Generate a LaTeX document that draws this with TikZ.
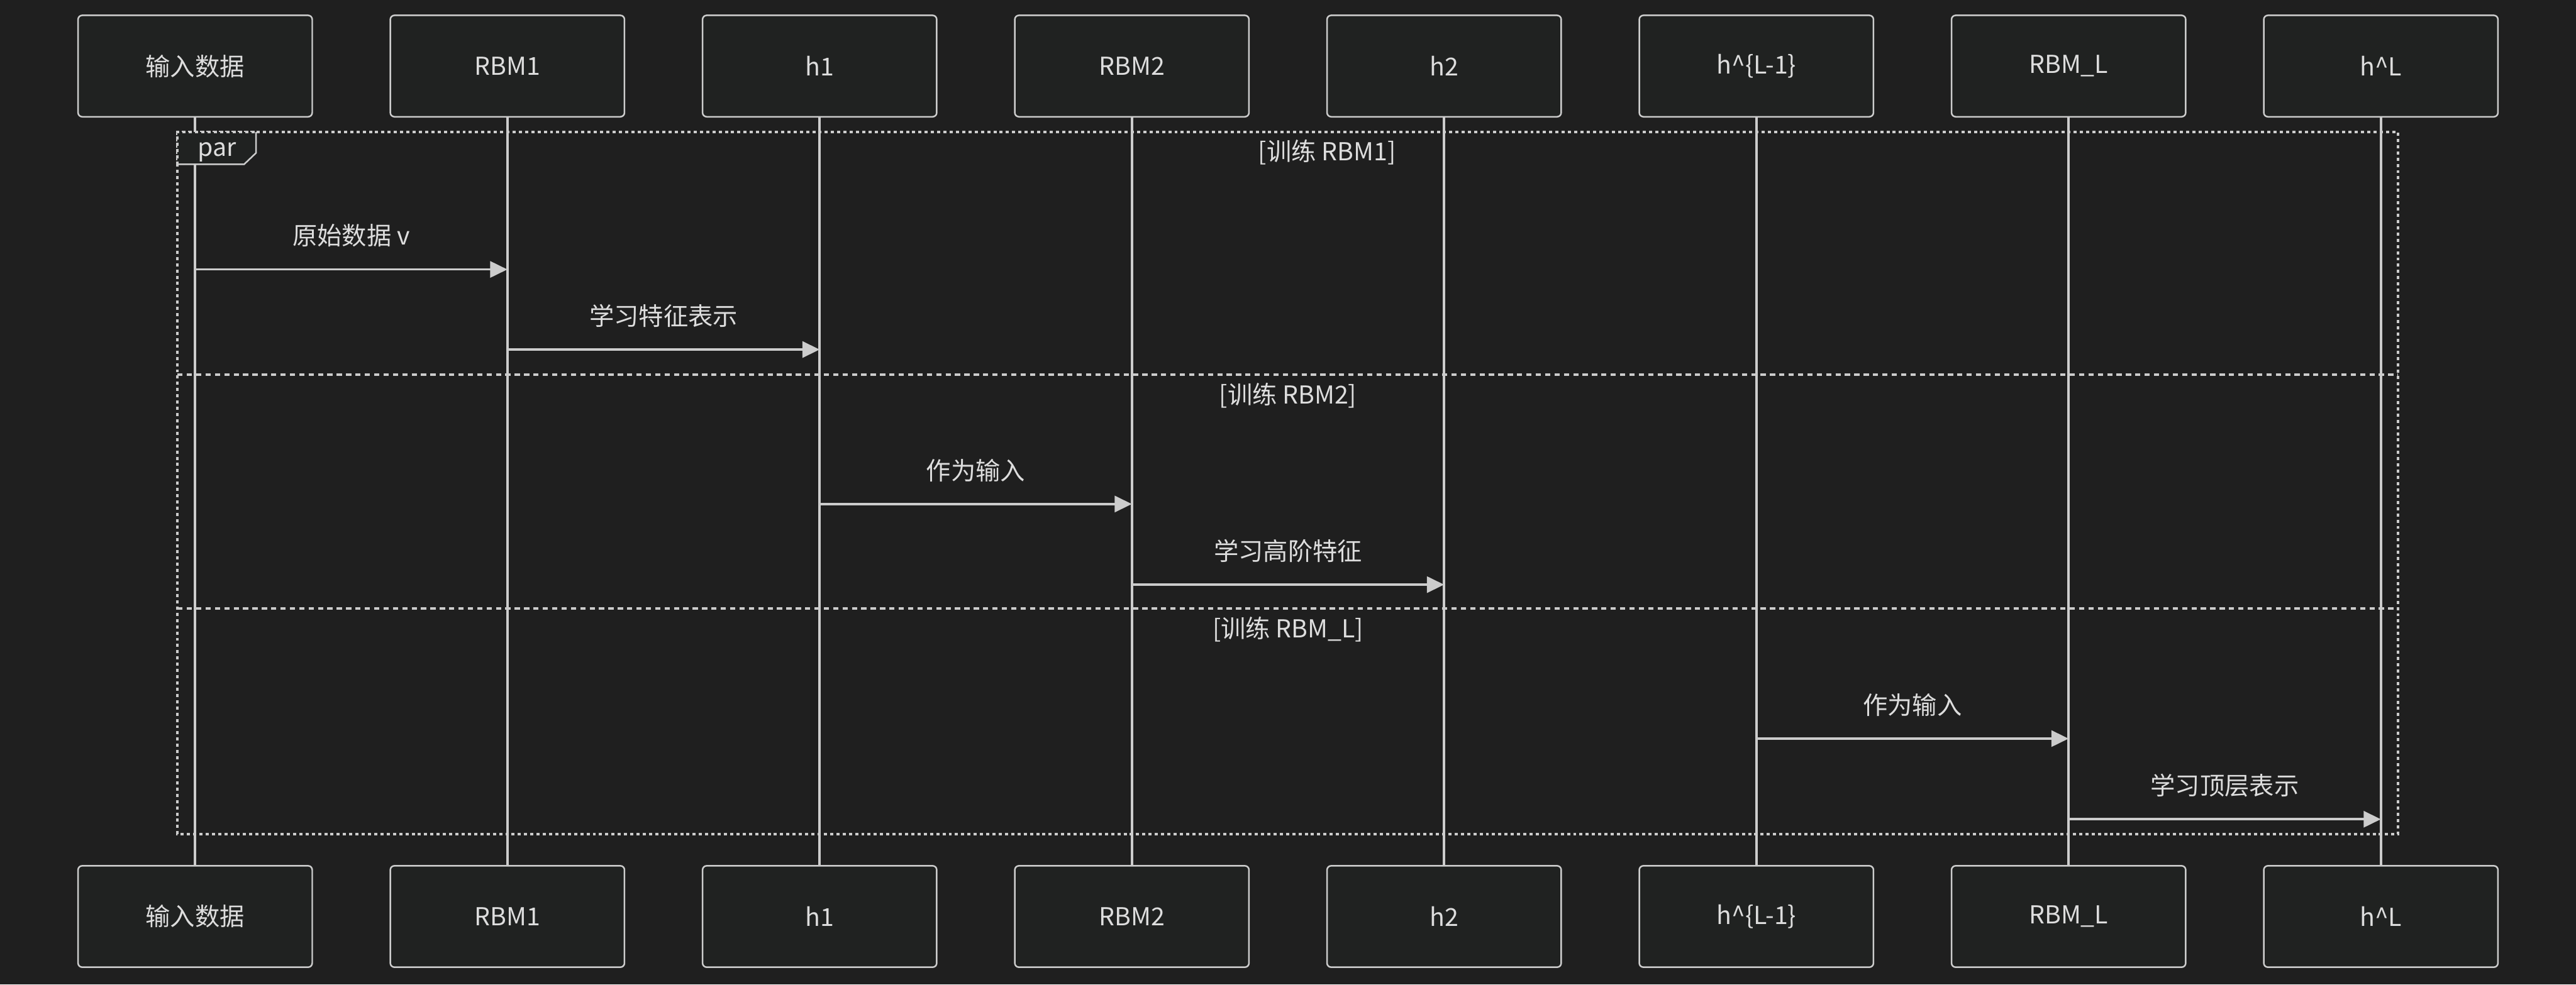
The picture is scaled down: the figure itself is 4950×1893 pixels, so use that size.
\documentclass[tikz,border=0pt]{standalone}
\usepackage{fontspec}
\setmainfont{Noto Sans CJK SC}
\usetikzlibrary{arrows.meta}
\definecolor{bg}{HTML}{1F1F1F}
\definecolor{boxfill}{HTML}{202221}
\definecolor{ln}{HTML}{CCCCCC}
\definecolor{txt}{HTML}{DDDDDD}
\begin{document}
\begin{tikzpicture}[x=0.2pt,y=-0.2pt,
  lbl/.style={text=txt,font=\fontsize{9.5}{11}\selectfont,inner sep=0pt},
  actor/.style={lbl,draw=ln,line width=0.6pt,fill=boxfill,rounded corners=1.6pt,
    minimum width=90pt,minimum height=39pt},
  lifeline/.style={draw=ln,line width=1pt},
  msg/.style={draw=ln,line width=0.9pt,-{Triangle[length=6.6pt,width=6.2pt]}},
  frameline/.style={draw=ln,line width=1pt,dash pattern=on 1.2pt off 1.2pt},
  sepline/.style={draw=ln,line width=1pt,dash pattern=on 2pt off 1.6pt}]
\fill[bg] (0,0) rectangle (4950,1893);
\useasboundingbox (0,0) rectangle (4950,1893);
% actors
\foreach \i/\t in {1/输入数据,2/RBM1,3/h1,4/RBM2,5/h2,6/h\textasciicircum\{L-1\},7/RBM\_L,8/h\textasciicircum L}{
  \node[actor] (top\i) at ({375+600*(\i-1)},127) {\t};
  \node[actor] (bot\i) at ({375+600*(\i-1)},1762) {\t};
}
% lifelines
\foreach \i in {1,...,8}{
  \draw[lifeline] (top\i.south) -- (bot\i.north);
}
% par frame
\draw[frameline] (341,254) rectangle (4608,1604);
\draw[sepline] (341,720) -- (4608,720);
\draw[sepline] (341,1170) -- (4608,1170);
\fill[boxfill] (341,254) -- (492,254) -- (492,294) -- (469,316) -- (341,316) -- cycle;
\draw[ln,line width=0.6pt] (492,254) -- (492,294) -- (469,316) -- (341,316);
\draw[frameline] (341,316) -- (341,254) -- (492,254);
\node[lbl] (parlbl) at (417,293) {par};
% section labels
\node[lbl] (sec1) at (2550,293) {[训练 RBM1]};
\node[lbl] (sec2) at (2475,760) {[训练 RBM2]};
\node[lbl] (sec3) at (2475,1210) {[训练 RBM\_L]};
% message end points
\coordinate (m1a) at (375,518);  \coordinate (m1b) at (975,518);
\coordinate (m2a) at (975,672);  \coordinate (m2b) at (1575,672);
\coordinate (m3a) at (1575,969); \coordinate (m3b) at (2175,969);
\coordinate (m4a) at (2175,1124);\coordinate (m4b) at (2775,1124);
\coordinate (m5a) at (3375,1420);\coordinate (m5b) at (3975,1420);
\coordinate (m6a) at (3975,1575);\coordinate (m6b) at (4575,1575);
\draw[msg] (m1a) -- node[lbl,midway,yshift=13pt] {原始数据 v} (m1b);
\draw[msg] (m2a) -- node[lbl,midway,yshift=13pt] {学习特征表示} (m2b);
\draw[msg] (m3a) -- node[lbl,midway,yshift=13pt] {作为输入} (m3b);
\draw[msg] (m4a) -- node[lbl,midway,yshift=13pt] {学习高阶特征} (m4b);
\draw[msg] (m5a) -- node[lbl,midway,yshift=13pt] {作为输入} (m5b);
\draw[msg] (m6a) -- node[lbl,midway,yshift=13pt] {学习顶层表示} (m6b);
\end{tikzpicture}
\end{document}
